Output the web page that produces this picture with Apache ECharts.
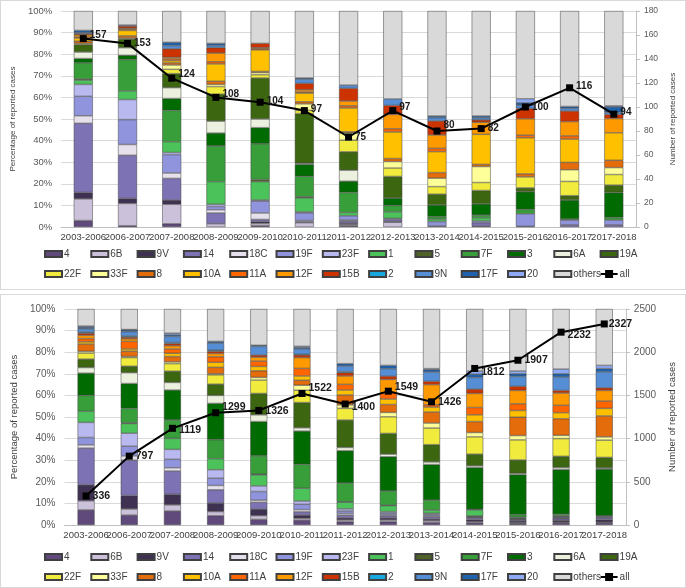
<!DOCTYPE html>
<html><head><meta charset="utf-8">
<script src="https://cdn.jsdelivr.net/npm/echarts@6/dist/echarts.min.js"></script>
<style>
html,body{margin:0;padding:0;background:#fff;}
#c1{position:absolute;left:0;top:0;width:686px;height:290px;border:1px solid #d9d9d9;box-sizing:border-box;}
#c2{position:absolute;left:0;top:294px;width:686px;height:294px;border:1px solid #d9d9d9;box-sizing:border-box;}
</style></head><body>
<div id="c1"></div><div id="c2"></div>
<script>
const categories = ['2003-2006','2006-2007','2007-2008','2008-2009','2009-2010','2010-2011','2011-2012','2012-2013','2013-2014','2014-2015','2015-2016','2016-2017','2017-2018'];
const serotypes = ['4','6B','9V','14','18C','19F','23F','1','5','7F','3','6A','19A','22F','33F','8','10A','11A','12F','15B','2','9N','17F','20','others'];

// ---- Top panel: percentage of reported cases per serotype ----
const top_4   = [3, 0.6, 1.5, 0, 0.7, 0, 0.7, 0, 0, 0.5, 0.3, 0, 0];
const top_6B  = [10, 10.3, 9, 1.5, 1, 2, 0.5, 2.2, 0, 0, 0, 0, 0];
const top_9V  = [3, 2.3, 2, 0, 0.8, 0, 0.5, 0.3, 0, 0, 0, 0, 0];
const top_14  = [32, 20, 10, 5, 1, 0.5, 1, 1, 0.5, 1.5, 0, 1, 1];
const top_18C = [3.5, 5, 2.5, 1.5, 3, 0.5, 0.5, 0, 0, 0, 0, 0, 0];
const top_19F = [9, 11.5, 8.5, 1.5, 5.5, 3.5, 2, 0.5, 2, 0.8, 5.8, 2.2, 2.2];
const top_23F = [5.5, 9.3, 1, 1, 0.5, 0.5, 0, 0, 0, 0, 0, 0, 0];
const top_1   = [2, 4, 5, 10.5, 8.5, 6.5, 1.5, 3, 1, 1.5, 0, 0, 0];
const top_5   = [0.5, 0, 0, 0, 1, 0.5, 0, 0, 0, 0, 0, 0, 0];
const top_7F  = [7.5, 14.5, 14.5, 16.5, 16.5, 9.5, 9.3, 3, 1.3, 1.2, 2, 0.5, 1.2];
const top_3   = [2, 2, 5.5, 6, 7.5, 5.5, 5.2, 3.4, 5.4, 5.2, 8.2, 8.8, 11.6];
const top_6A  = [3, 3.5, 5, 5.5, 4, 0.5, 5.1, 0, 0, 0, 0, 0, 0];
const top_19A = [3.5, 4, 6.5, 12.5, 19, 23, 8.5, 10, 5, 6.2, 1.8, 2, 3.4];
const top_22F = [0.5, 0.5, 2, 3.5, 1.5, 1.5, 5.4, 3.9, 3.5, 3.7, 5.1, 6.6, 4.9];
const top_33F = [0, 0, 2, 1, 1, 3, 3.4, 3, 3.9, 7.4, 0, 5.4, 3.2];
const top_8   = [1, 1, 1, 1.5, 0.5, 1, 0.5, 1.4, 2.6, 1, 1.4, 3.4, 3.4];
const top_10A = [1.5, 2.5, 1, 8, 10, 4, 11, 12.3, 9.7, 13.9, 16.7, 10.8, 12.7];
const top_11A = [0.5, 0.5, 0.8, 1, 0.5, 0.5, 1, 1.5, 1.5, 0, 1.2, 1.5, 0];
const top_12F = [1, 0.5, 0.7, 4, 0.5, 1, 2.2, 6.6, 6.2, 5.6, 7.6, 6.6, 6.6];
const top_15B = [0.5, 1, 4, 2.5, 2, 3, 5.9, 4.2, 6.5, 1.1, 4.8, 4.9, 1.9];
const top_2   = [0, 0, 0, 0, 0, 0, 0, 0, 0, 0, 0, 0, 0];
const top_9N  = [0.5, 0, 1.5, 1, 0, 2, 1.5, 3, 1.5, 1, 1.5, 1.2, 1];
const top_17F = [1, 0, 1.5, 1, 0, 0.5, 0, 0, 0.8, 0.8, 1.1, 0.9, 2.5];
const top_20  = [0, 0.5, 0, 0, 0, 0, 0, 0, 0, 0, 1.9, 0, 0.5];
const top_others = [9, 6.5, 14.5, 15, 15, 31, 34.3, 40.7, 48.6, 48.6, 40.6, 44.2, 43.9];
const top_all = [157, 153, 124, 108, 104, 97, 75, 97, 80, 82, 100, 116, 94];
const top_rightTicks = [0, 20, 40, 60, 80, 100, 120, 140, 160, 180];

// ---- Bottom panel ----
const bot_4   = [7, 4.6, 6.5, 4.3, 2.6, 2.3, 1.5, 1.5, 1.2, 1, 0.8, 1, 1];
const bot_6B  = [4.2, 2.8, 2.8, 1.9, 1.7, 0.8, 0.8, 0.8, 0.8, 0.5, 0.3, 0.3, 0.3];
const bot_9V  = [7.4, 6.2, 4.9, 3.9, 3.1, 1.5, 1, 1, 0.8, 1, 0.8, 0.9, 1.2];
const bot_14  = [17, 16.4, 10.8, 6.2, 3.1, 1.5, 1.2, 1, 1, 0.8, 0.5, 0.8, 0.8];
const bot_18C = [1.5, 2, 1.5, 2, 1, 1, 0.8, 0.5, 0.5, 0.3, 0.2, 0.2, 0.2];
const bot_19F = [3.4, 4.5, 3.9, 3.4, 4, 2.5, 1.2, 0.8, 0.6, 0.4, 0.3, 0.5, 0.6];
const bot_23F = [7, 6, 4.6, 3.9, 2.6, 1.5, 1, 0.6, 0.5, 0.2, 0.2, 0.2, 0.2];
const bot_1   = [5.1, 4.5, 5.1, 5.1, 5.1, 5.9, 3.1, 2.8, 1.5, 2.8, 0.5, 0.3, 0];
const bot_5   = [0, 0.3, 0, 0, 0.3, 0, 0.2, 0.2, 0, 0, 0, 0, 0];
const bot_7F  = [7.4, 6.7, 8.5, 8.8, 8.5, 11.1, 8.6, 6.5, 4.6, 0.3, 1.2, 0.8, 0];
const bot_3   = [10.3, 11.5, 13.9, 16.8, 15.9, 15.4, 15, 15.9, 16.5, 19.3, 18.5, 20.7, 21.6];
const bot_6A  = [2.6, 5, 3.5, 3.7, 3.1, 1.5, 1.5, 1.2, 1.2, 0.8, 0.6, 0.9, 0.5];
const bot_19A = [3.9, 3, 5.2, 5.2, 9.9, 11.7, 12.7, 9.6, 8, 5.4, 6.2, 5.2, 4.9];
const bot_22F = [2.8, 4, 3.5, 4.3, 6.2, 5.7, 5.4, 7.7, 7.7, 8, 9.3, 8.2, 8];
const bot_33F = [0.8, 0.5, 0.8, 0.5, 1.2, 2.3, 1.6, 2, 2.3, 2, 2, 1.5, 1.5];
const bot_8   = [3.4, 2.5, 2.5, 3, 3.1, 2.3, 4.6, 3.7, 5.1, 5.1, 8.5, 7.7, 9.7];
const bot_10A = [1, 1, 1.5, 2.3, 2, 2, 2.3, 2.5, 2.3, 3.1, 3.1, 2.8, 3.5];
const bot_11A = [1.5, 3.5, 2, 2.6, 2.5, 3.5, 2.6, 2.9, 1.1, 3.4, 3.1, 3.4, 3.4];
const bot_12F = [1.5, 1.2, 1.5, 1.5, 1.8, 5, 3.9, 6.2, 9.3, 6.5, 6.2, 5.7, 4.9];
const bot_15B = [1, 0.8, 1, 1, 1, 1.2, 1.5, 1.5, 1.5, 2, 1.9, 1.2, 1.2];
const bot_2   = [0.5, 0.5, 0.5, 0.5, 0, 0.3, 0.5, 0, 0, 0, 0, 0, 0];
const bot_9N  = [1.5, 2, 2.8, 3.3, 4, 2.5, 2.6, 3.5, 4.3, 5.4, 4.6, 6.2, 7.4];
const bot_17F = [0.8, 0.8, 0.7, 0.8, 0.5, 0.7, 1.1, 1.5, 1.1, 1.5, 1.2, 1.5, 1.5];
const bot_20  = [0.5, 0.2, 0.8, 0, 0, 0.5, 0, 0, 0.5, 1.5, 1.3, 2.2, 1.5];
const bot_others = [7.9, 9.5, 11.2, 15, 16.8, 17.3, 25.3, 26.1, 27.6, 28.7, 28.7, 27.8, 26.1];
const bot_all = [336, 797, 1119, 1299, 1326, 1522, 1400, 1549, 1426, 1812, 1907, 2232, 2327];
const bot_rightTicks = [0, 500, 1000, 1500, 2000, 2500];

const topVals = {'4':top_4,'6B':top_6B,'9V':top_9V,'14':top_14,'18C':top_18C,'19F':top_19F,'23F':top_23F,'1':top_1,'5':top_5,'7F':top_7F,'3':top_3,'6A':top_6A,'19A':top_19A,'22F':top_22F,'33F':top_33F,'8':top_8,'10A':top_10A,'11A':top_11A,'12F':top_12F,'15B':top_15B,'2':top_2,'9N':top_9N,'17F':top_17F,'20':top_20,'others':top_others};
const botVals = {'4':bot_4,'6B':bot_6B,'9V':bot_9V,'14':bot_14,'18C':bot_18C,'19F':bot_19F,'23F':bot_23F,'1':bot_1,'5':bot_5,'7F':bot_7F,'3':bot_3,'6A':bot_6A,'19A':bot_19A,'22F':bot_22F,'33F':bot_33F,'8':bot_8,'10A':bot_10A,'11A':bot_11A,'12F':bot_12F,'15B':bot_15B,'2':bot_2,'9N':bot_9N,'17F':bot_17F,'20':bot_20,'others':bot_others};

const colors = {'4':'#604a7b','6B':'#ccc1da','9V':'#3f3151','14':'#7d72b4','18C':'#e6e0ec','19F':'#8f94dc','23F':'#b9b9ef','1':'#4cc35a','5':'#4f6228','7F':'#389e3a','3':'#006b00','6A':'#ebf1de','19A':'#3d6611','22F':'#f0eb3c','33F':'#ffff99','8':'#e46c0a','10A':'#ffc000','11A':'#ff6600','12F':'#ff9900','15B':'#cc3300','2':'#16a9e0','9N':'#558ed5','17F':'#1f62ad','20':'#8ea9f5','others':'#d9d9d9'};
const FONT = 'Liberation Sans, Arial, sans-serif';

function makeOption(cfg) {
  const series = serotypes.map(n => ({
    name: n, type: 'bar', stack: 's', barWidth: cfg.barWidth,
    data: cfg.vals[n].map(v => v === 0 ? null : v),
    itemStyle: {color: colors[n], borderColor: '#404040', borderWidth: 0.5},
    emphasis: {disabled: true}
  }));
  series.push({
    name: 'all', type: 'line', yAxisIndex: 1, z: 5,
    data: cfg.all.map((v, i) => ({value: v, label: {offset: cfg.offsets[i]}})),
    symbol: 'rect', symbolSize: 7,
    lineStyle: {color: '#000', width: 2}, itemStyle: {color: '#000'},
    label: {show: true, position: 'right', distance: 3, fontWeight: 'bold', fontSize: cfg.lblSize, color: '#1a1a1a', fontFamily: FONT},
    emphasis: {disabled: true}
  });
  const names = serotypes.concat(['all']);
  const legends = names.map((n, i) => ({
    data: [n], selectedMode: false,
    left: cfg.legLeft + (i % 13) * cfg.legPitch, top: i < 13 ? cfg.legTop1 : cfg.legTop2,
    itemWidth: 17, itemHeight: n === 'all' ? 10 : 6, icon: n === 'all' ? undefined : 'rect',
    padding: 0, textStyle: {fontSize: 10, color: '#404040', fontFamily: FONT, padding: [0,0,0,-3]}
  }));
  return {
    animation: false,
    textStyle: {fontFamily: FONT},
    legend: legends,
    grid: {left: cfg.gridLeft, top: cfg.gridTop, width: cfg.gridWidth, height: 216},
    xAxis: {type: 'category', data: categories,
      axisLine: {lineStyle: {color: '#bfbfbf'}}, axisTick: {show: false},
      axisLabel: {interval: 0, fontSize: cfg.xFont, color: '#404040', margin: 5}},
    yAxis: [
      {type: 'value', min: 0, max: 100, interval: 10,
       name: 'Percentage of reported cases', nameLocation: 'middle', nameRotate: 90, nameGap: cfg.lNameGap,
       nameTextStyle: {fontSize: cfg.nameFont, color: '#404040'},
       axisLabel: {formatter: v => v + '%', fontSize: cfg.yFont, color: '#595959', margin: 9},
       splitLine: {lineStyle: {color: '#d9d9d9'}}, axisLine: {show: false}, axisTick: {show: false}},
      {type: 'value', min: 0, max: cfg.rightTicks[cfg.rightTicks.length - 1], interval: cfg.rightTicks[1] - cfg.rightTicks[0],
       position: 'right',
       name: 'Number of reported cases', nameLocation: 'middle', nameRotate: 90, nameGap: cfg.rNameGap,
       nameTextStyle: {fontSize: cfg.nameFont, color: '#404040'},
       axisLabel: {formatter: v => String(v), fontSize: cfg.rFont, color: '#595959', margin: 8},
       splitLine: {show: false},
       axisLine: {show: true, lineStyle: {color: '#bfbfbf'}},
       axisTick: {show: true, length: 4, lineStyle: {color: '#bfbfbf'}}}
    ],
    series: series
  };
}

const c1 = echarts.init(document.getElementById('c1'), null, {renderer: 'canvas'});
c1.setOption(makeOption({
  vals: topVals, all: top_all, rightTicks: top_rightTicks,
  barWidth: 19, gridLeft: 54.5, gridTop: 10, gridWidth: 586,
  xFont: 9.5, yFont: 9.5, rFont: 8.5, nameFont: 8, lblSize: 10,
  lNameGap: 29, rNameGap: 22,
  legLeft: 43, legPitch: 46.3, legTop1: 248, legTop2: 268,
  offsets: [[0,-3],[0,0],[0,-4],[0,-3],[0,-1],[0,-1],[0,0],[0,-3],[0,-6],[0,0],[0,0],[0,-2],[0,-2]]
}));

const c2 = echarts.init(document.getElementById('c2'), null, {renderer: 'canvas'});
c2.setOption(makeOption({
  vals: botVals, all: bot_all, rightTicks: bot_rightTicks,
  barWidth: 17, gridLeft: 56.7, gridTop: 14, gridWidth: 572,
  xFont: 9.5, yFont: 10, rFont: 10, nameFont: 9.5, lblSize: 10.5,
  lNameGap: 27, rNameGap: 30,
  legLeft: 43, legPitch: 46.3, legTop1: 257, legTop2: 277,
  offsets: [[0,0],[0,0],[0,2],[0,-6],[0,1],[0,-5],[0,3],[0,-4],[0,0],[0,4],[0,0],[0,3],[-2,0]]
}));
</script>
</body></html>
